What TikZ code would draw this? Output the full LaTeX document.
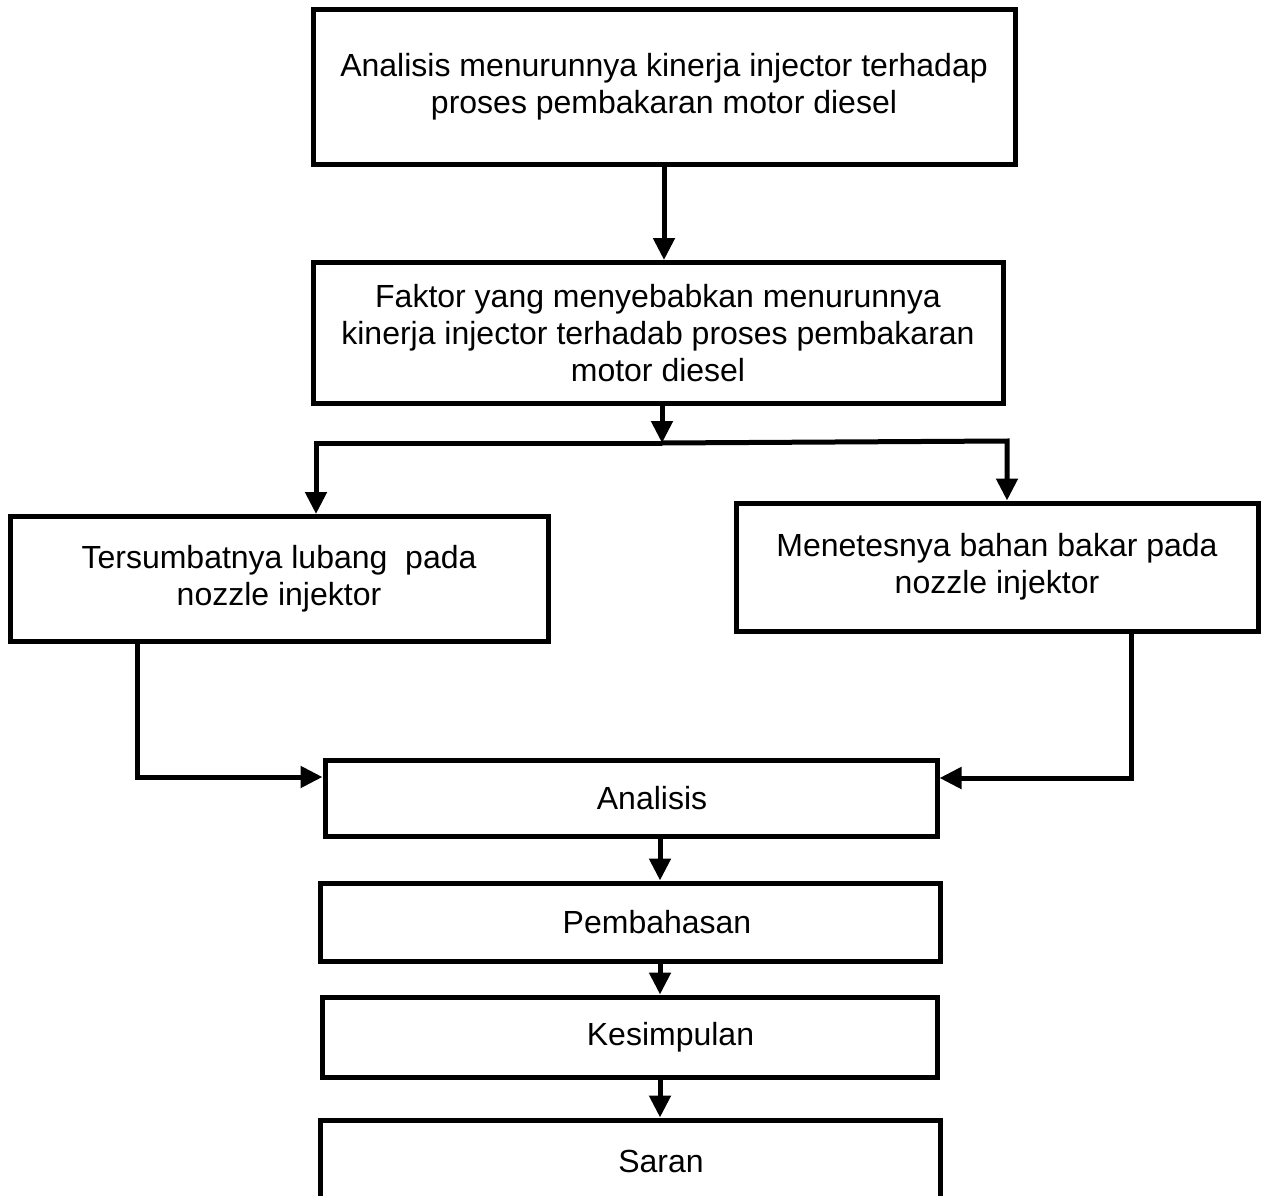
\documentclass[tikz,border=0pt]{standalone}
\usepackage{fontspec}
\setmainfont{Liberation Sans}
\usetikzlibrary{arrows.meta}
\begin{document}
\begin{tikzpicture}[x=1pt,y=-1pt,
  box/.style={draw,line width=5pt,rectangle,inner sep=0pt,align=center,
    font=\fontsize{32}{37}\selectfont},
  arr/.style={line width=5pt,-{Triangle[length=22pt,width=21pt]}},
  ln/.style={line width=5pt}]
\useasboundingbox (0,0) rectangle (1261,1196);
\fill[white] (0,0) rectangle (1261,1196);
\node[box,minimum width=702pt,minimum height=155pt] (b1) at (664,87)
  {Analisis menurunnya kinerja injector terhadap\\proses pembakaran motor diesel};
\node[box,minimum width=690pt,minimum height=141pt] (b2) at (658,333)
  {Faktor yang menyebabkan menurunnya\\kinerja injector terhadab proses pembakaran\\motor diesel};
\node[box,minimum width=538pt,minimum height=125pt] (b3) at (279,579)
  {Tersumbatnya lubang\ \ pada\\nozzle injektor};
\node[box,minimum width=522pt,minimum height=128pt] (b4) at (997,567)
  {Menetesnya bahan bakar pada\\nozzle injektor};
\node[box,minimum width=612pt,minimum height=76pt] (b5) at (631,798)
  {\hspace*{42pt}Analisis};
\node[box,minimum width=620pt,minimum height=78pt] (b6) at (630,922)
  {\hspace*{54pt}Pembahasan};
\node[box,minimum width=615pt,minimum height=80pt] (b7) at (629.5,1037)
  {\hspace*{82pt}Kesimpulan};
\node[box,minimum width=620pt,minimum height=82pt] (b8) at (630,1161)
  {\hspace*{62pt}Saran};
% top connectors
\draw[arr] (b1.south) -- (b1.south |- b2.north);
\coordinate (j) at (662,443);
\coordinate (jl) at (316,443);
\coordinate (jr) at (1007,441);
\draw[arr] (b2.south -| j) -- (j);
\draw[arr] (j) -- (jl) -- (jl |- b3.north);
\draw[arr] (j) -- (jr) -- (jr |- b4.north);
% side feeds into Analisis
\coordinate (lc) at (137,777);
\coordinate (rc) at (1131,778);
\draw[arr] (b3.south -| lc) -- (lc) -- (lc -| b5.west);
\draw[arr] (b4.south -| rc) -- (rc) -- (rc -| b5.east);
% bottom chain
\coordinate (cx) at (660,0);
\draw[arr] (b5.south -| cx) -- (b6.north -| cx);
\draw[arr] (b6.south -| cx) -- (b7.north -| cx);
\draw[arr] (b7.south -| cx) -- (b8.north -| cx);
\end{tikzpicture}
\end{document}
